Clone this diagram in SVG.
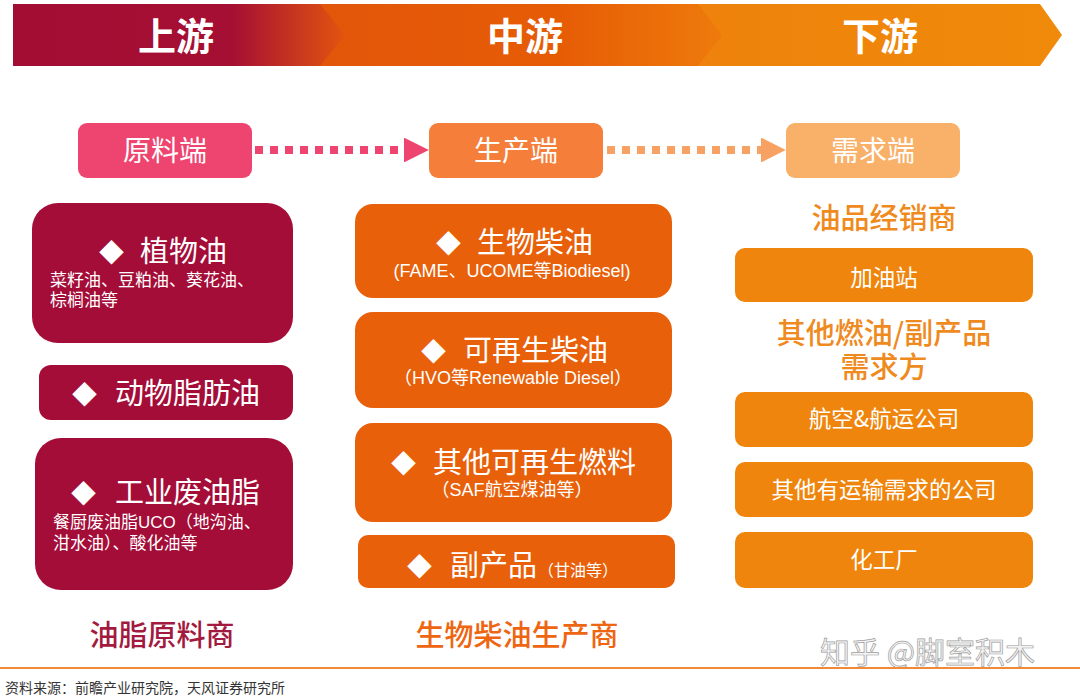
<svg xmlns="http://www.w3.org/2000/svg" width="1080" height="700" viewBox="0 0 1080 700">
<defs>
<linearGradient id="g1" x1="13" y1="0" x2="345" y2="0" gradientUnits="userSpaceOnUse">
<stop offset="0" stop-color="#A30D34"/>
<stop offset="0.66" stop-color="#A50F33"/>
<stop offset="0.9" stop-color="#D0401A"/>
<stop offset="1" stop-color="#E2540E"/>
</linearGradient>
<linearGradient id="g2" x1="320" y1="0" x2="720" y2="0" gradientUnits="userSpaceOnUse">
<stop offset="0" stop-color="#E2560A"/>
<stop offset="0.6" stop-color="#E65C05"/>
<stop offset="1" stop-color="#EE7A0C"/>
</linearGradient>
<linearGradient id="g3" x1="695" y1="0" x2="1062" y2="0" gradientUnits="userSpaceOnUse">
<stop offset="0" stop-color="#EE820C"/>
<stop offset="1" stop-color="#F08A0A"/>
</linearGradient>
<marker id="ah1" viewBox="0 0 10 10" refX="0" refY="5" markerWidth="3.1" markerHeight="3.1" orient="auto" markerUnits="strokeWidth">
<path d="M0,0 L10,5 L0,10 Z" fill="#EE4470"/>
</marker>
<marker id="ah2" viewBox="0 0 10 10" refX="0" refY="5" markerWidth="3.1" markerHeight="3.1" orient="auto" markerUnits="strokeWidth">
<path d="M0,0 L10,5 L0,10 Z" fill="#F7A262"/>
</marker>
<style>
text{font-family:"Noto Sans CJK SC","Liberation Sans",sans-serif;}
.ban{font-size:38px;font-weight:bold;fill:#fff;text-anchor:middle;}
.step{font-size:28px;fill:#fff;text-anchor:middle;}
.red{fill:#A30D38;}
.org{fill:#E8600A;}
.lor{fill:#EF850C;}
.tw{fill:#fff;font-size:29px;}
.dm{font-size:25px;}
.sw{fill:#fff;font-size:17px;font-family:"Liberation Sans","Noto Sans CJK SC",sans-serif;}
.sm{fill:#fff;font-size:18px;text-anchor:middle;font-family:"Liberation Sans","Noto Sans CJK SC",sans-serif;}
.cw{fill:#fff;font-size:22.5px;text-anchor:middle;}
.lbl{font-size:29px;text-anchor:middle;font-weight:500;}
</style>
</defs>
<rect width="1080" height="700" fill="#fff"/>

<g id="banner">
<polygon points="695,4 1040,4 1062,35 1040,66 695,66" fill="url(#g3)"/>
<polygon points="320,4 698,4 722,35 698,66 320,66" fill="url(#g2)"/>
<polygon points="13,4 320,4 345,35 320,66 13,66" fill="url(#g1)"/>
<text class="ban" x="176" y="50">上游</text>
<text class="ban" x="525" y="50">中游</text>
<text class="ban" x="880" y="50">下游</text>
</g>

<g id="step-raw">
<rect x="78" y="123" width="174" height="55" rx="9" fill="#EE4470"/>
<text class="step" x="165" y="161">原料端</text>
</g>
<g id="step-prod">
<rect x="429" y="123" width="174" height="55" rx="9" fill="#F47E3A"/>
<text class="step" x="516" y="161">生产端</text>
</g>
<g id="step-demand">
<rect x="786" y="123" width="174" height="55" rx="9" fill="#F9B068"/>
<text class="step" x="873" y="161">需求端</text>
</g>

<g id="connectors">
<line x1="255" y1="150" x2="404" y2="150" stroke="#EE4470" stroke-width="8" stroke-dasharray="8 7" marker-end="url(#ah1)"/>
<line x1="607" y1="150" x2="761" y2="150" stroke="#F7A262" stroke-width="8" stroke-dasharray="8 7" marker-end="url(#ah2)"/>
</g>

<g id="veg-oil">
<rect x="32" y="203" width="261" height="140" rx="26" class="red"/>
<text class="tw" y="262"><tspan class="dm" x="99">◆</tspan><tspan x="140">植物油</tspan></text>
<text class="sw" x="50" y="286">菜籽油、豆粕油、葵花油、</text>
<text class="sw" x="50" y="306">棕榈油等</text>
</g>
<g id="animal-fat">
<rect x="39" y="365" width="254" height="55" rx="12" class="red"/>
<text class="tw" y="404"><tspan class="dm" x="72">◆</tspan><tspan x="115">动物脂肪油</tspan></text>
</g>
<g id="waste-oil">
<rect x="35" y="438" width="258" height="152" rx="26" class="red"/>
<text class="tw" y="503"><tspan class="dm" x="71">◆</tspan><tspan x="115">工业废油脂</tspan></text>
<text class="sw" x="53" y="528">餐厨废油脂UCO（地沟油、</text>
<text class="sw" x="53" y="549">泔水油）、酸化油等</text>
</g>
<g id="label-raw">
<text class="lbl" x="162" y="646" fill="#A31A40">油脂原料商</text>
</g>

<g id="biodiesel">
<rect x="355" y="204" width="317" height="94" rx="18" class="org"/>
<text class="tw" y="253"><tspan class="dm" x="436">◆</tspan><tspan x="477">生物柴油</tspan></text>
<text class="sm" x="512" y="277">(FAME、UCOME等Biodiesel)</text>
</g>
<g id="renewable-diesel">
<rect x="355" y="312" width="317" height="96" rx="18" class="org"/>
<text class="tw" y="361"><tspan class="dm" x="421">◆</tspan><tspan x="463">可再生柴油</tspan></text>
<text class="sm" x="513" y="384">（HVO等Renewable Diesel）</text>
</g>
<g id="other-renewable">
<rect x="355" y="423" width="317" height="99" rx="18" class="org"/>
<text class="tw" y="473"><tspan class="dm" x="391">◆</tspan><tspan x="433">其他可再生燃料</tspan></text>
<text class="sm" x="512" y="496">（SAF航空煤油等）</text>
</g>
<g id="byproduct">
<rect x="358" y="535" width="317" height="53" rx="10" class="org"/>
<text class="tw" y="576"><tspan class="dm" x="407">◆</tspan><tspan x="450">副产品</tspan><tspan x="538" font-size="16">（甘油等）</tspan></text>
</g>
<g id="label-prod">
<text class="lbl" x="517" y="646" fill="#EE6512">生物柴油生产商</text>
</g>

<g id="label-dealer">
<text class="lbl" x="884" y="229" fill="#EF8A1E">油品经销商</text>
</g>
<g id="gas-station">
<rect x="735" y="248" width="298" height="54" rx="10" class="lor"/>
<text class="cw" x="884" y="286" font-size="28">加油站</text>
</g>
<g id="label-other">
<text class="lbl" x="884" y="344" fill="#EF8A1E">其他燃油/副产品</text>
<text class="lbl" x="884" y="378" fill="#EF8A1E">需求方</text>
</g>
<g id="airline">
<rect x="735" y="392" width="298" height="55" rx="10" class="lor"/>
<text class="cw" x="884" y="427">航空&amp;航运公司</text>
</g>
<g id="transport">
<rect x="735" y="462" width="298" height="55" rx="10" class="lor"/>
<text class="cw" x="884" y="498">其他有运输需求的公司</text>
</g>
<g id="chemical">
<rect x="735" y="532" width="298" height="56" rx="10" class="lor"/>
<text class="cw" x="884" y="568">化工厂</text>
</g>

<text x="820" y="663" font-size="30" fill="#f4f4f4" stroke="#a0a0a0" stroke-width="0.7">知乎 @脚室积木</text>
<line x1="0" y1="668" x2="1080" y2="668" stroke="#F08A3A" stroke-width="2"/>
<text x="5" y="693" font-size="14" fill="#333">资料来源：前瞻产业研究院，天风证券研究所</text>
</svg>
